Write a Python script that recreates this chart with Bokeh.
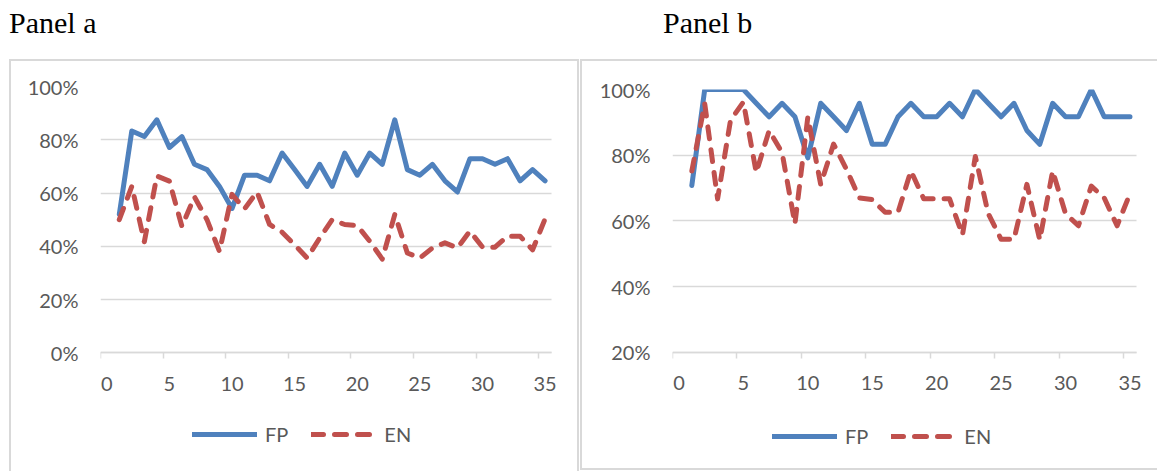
from bokeh.plotting import figure
from bokeh.models import (FixedTicker, NumeralTickFormatter, Legend, LegendItem,
                          Range1d, Div, Grid)
from bokeh.layouts import row, column
from bokeh.embed import file_html
from bokeh.resources import INLINE

# ---- data ----
x_vals = list(range(1, 36))
x_tick_labels = [0, 5, 10, 15, 20, 25, 30, 35]

fp_a = [0.52, 0.833, 0.812, 0.875, 0.771, 0.812, 0.708, 0.688, 0.625, 0.542,
        0.667, 0.667, 0.646, 0.750, 0.688, 0.625, 0.708, 0.625, 0.750, 0.667,
        0.750, 0.708, 0.875, 0.688, 0.667, 0.708, 0.646, 0.604, 0.729, 0.729,
        0.708, 0.729, 0.646, 0.688, 0.646]
en_a = [0.500, 0.625, 0.417, 0.664, 0.645, 0.475, 0.586, 0.500, 0.381, 0.595,
        0.541, 0.604, 0.482, 0.453, 0.406, 0.356, 0.431, 0.500, 0.482, 0.478,
        0.419, 0.352, 0.520, 0.375, 0.356, 0.394, 0.413, 0.394, 0.457, 0.397,
        0.397, 0.438, 0.438, 0.387, 0.503]

fp_b = [0.708, 1.0, 1.0, 1.0, 1.0, 0.958, 0.917, 0.958, 0.917, 0.792,
        0.958, 0.917, 0.875, 0.958, 0.833, 0.833, 0.917, 0.958, 0.917, 0.917,
        0.958, 0.917, 1.0, 0.958, 0.917, 0.958, 0.875, 0.833, 0.958, 0.917,
        0.917, 1.0, 0.917, 0.917, 0.917]
en_b = [0.752, 0.957, 0.667, 0.906, 0.962, 0.747, 0.875, 0.808, 0.591, 0.916,
        0.711, 0.834, 0.757, 0.670, 0.665, 0.626, 0.626, 0.752, 0.667, 0.667,
        0.667, 0.557, 0.796, 0.622, 0.544, 0.544, 0.711, 0.542, 0.752, 0.622,
        0.585, 0.706, 0.670, 0.585, 0.683]

yticks_a = [0.0, 0.2, 0.4, 0.6, 0.8, 1.0]
yticks_b = [0.2, 0.4, 0.6, 0.8, 1.0]

X_LO, X_HI = -0.5, 35.5

BLUE = "#4F81BD"
RED = "#C0504D"
GRID = "#D9D9D9"
TXT = "#595959"
FONT = "Lato"
EXTRA_RIGHT = 16   # px of frame kept right of the axis so the last label is not clipped


def make_panel(fp, en, yticks, W, H, left, plot_w, top, px_per_unit,
               legend_dx, legend_dy, margin_left, borders):
    px_per_x = plot_w / (X_HI - X_LO)
    x_end = X_HI + EXTRA_RIGHT / px_per_x
    frame_w = plot_w + EXTRA_RIGHT
    frame_h = H - top
    y_hi = yticks[-1]
    y_lo = y_hi - frame_h / px_per_unit      # frame reaches canvas bottom
    p = figure(width=W, height=H, output_backend="svg", toolbar_location=None,
               x_range=Range1d(X_LO, x_end), y_range=Range1d(y_lo, y_hi),
               min_border_left=left, min_border_right=W - left - frame_w,
               min_border_top=top, min_border_bottom=0,
               margin=(0, 0, 0, margin_left))
    st = {"box-sizing": "content-box"}
    for side in borders:
        st["border-" + side] = "2px solid " + GRID
    p.styles = st
    p.outline_line_color = None
    p.background_fill_color = "white"
    p.border_fill_color = "white"

    # x axis (drawn at the lowest y tick, inside the frame)
    p.xaxis.fixed_location = yticks[0]
    p.xaxis.bounds = (X_LO, X_HI)
    p.xaxis.ticker = FixedTicker(ticks=x_tick_labels,
                                 minor_ticks=[t - 0.5 for t in x_tick_labels])
    p.xaxis.major_tick_line_color = None
    p.xaxis.major_tick_out = 0
    p.xaxis.major_tick_in = 0
    p.xaxis.minor_tick_line_color = GRID
    p.xaxis.minor_tick_line_width = 1.5
    p.xaxis.minor_tick_in = 0
    p.xaxis.minor_tick_out = 6
    p.xaxis.axis_line_color = GRID
    p.xaxis.axis_line_width = 1.5
    p.xaxis.major_label_standoff = 18
    p.xaxis.major_label_text_font = FONT
    p.xaxis.major_label_text_font_size = "20px"
    p.xaxis.major_label_text_color = TXT
    p.xgrid.visible = False

    # y axis
    p.yaxis.ticker = FixedTicker(ticks=yticks)
    p.yaxis.formatter = NumeralTickFormatter(format="0%")
    p.yaxis.axis_line_color = None
    p.yaxis.major_tick_line_color = None
    p.yaxis.major_tick_out = 0
    p.yaxis.major_tick_in = 0
    p.yaxis.minor_tick_line_color = None
    p.yaxis.major_label_standoff = 22
    p.yaxis.major_label_text_font = FONT
    p.yaxis.major_label_text_font_size = "20px"
    p.yaxis.major_label_text_color = TXT

    if "cross_bounds" in Grid.properties():
        p.ygrid.grid_line_color = GRID
        p.ygrid.grid_line_width = 1.5
        p.ygrid.cross_bounds = (X_LO, X_HI)
    else:
        p.ygrid.visible = False
        p.segment(x0=[X_LO] * len(yticks), x1=[X_HI] * len(yticks),
                  y0=yticks, y1=yticks, line_color=GRID, line_width=1.5)

    r1 = p.line(x_vals, fp, line_color=BLUE, line_width=5,
                line_join="round", line_cap="round")
    r2 = p.line(x_vals, en, line_color=RED, line_width=5, line_dash="12 11",
                line_join="round", line_cap="round")

    leg = Legend(items=[LegendItem(label="FP", renderers=[r1]),
                        LegendItem(label="EN", renderers=[r2])],
                 orientation="horizontal", location=(legend_dx, legend_dy),
                 glyph_width=65, glyph_height=20, label_standoff=8, spacing=23,
                 padding=0, margin=0, border_line_color=None,
                 background_fill_alpha=0, label_text_font=FONT,
                 label_text_font_size="20px", label_text_color=TXT,
                 label_height=20)
    p.add_layout(leg)
    return p


def title_div(text, width, pad_left):
    html = ('<div style="font-family: \'Liberation Serif\'; font-size: 30px; '
            'line-height: 1; color: #000; white-space: nowrap; '
            'padding-top: 8px; padding-left: %dpx;">%s</div>' % (pad_left, text))
    return Div(text=html, width=width, height=59, margin=(0, 0, 0, 0))


pa = make_panel(fp_a, en_a, yticks_a, 566, 410, 89, 447, 25, 265.0, 92, 27, 9,
                ["left", "top", "right"])
pb = make_panel(fp_b, en_b, yticks_b, 575, 407, 90, 462, 28, 325.0, 100, 24, 1,
                ["left", "top", "bottom"])

col_a = column(title_div("Panel a", 579, 9), pa, spacing=0)
col_b = column(title_div("Panel b", 578, 84), pb, spacing=0)
layout = row(col_a, col_b, spacing=0)
open("out.html", "w").write(file_html(layout, INLINE))
